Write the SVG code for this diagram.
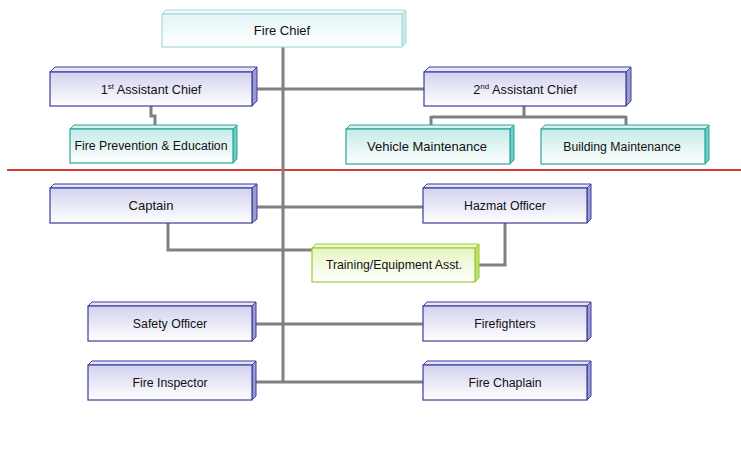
<svg xmlns="http://www.w3.org/2000/svg" width="741" height="451" viewBox="0 0 741 451">
<defs>
<linearGradient id="gBlue" x1="0" y1="0" x2="0" y2="1"><stop offset="0" stop-color="#d2d2ef"/><stop offset="1" stop-color="#ffffff"/></linearGradient>
<linearGradient id="gTeal" x1="0" y1="0" x2="0" y2="1"><stop offset="0" stop-color="#c4ebe8"/><stop offset="1" stop-color="#ffffff"/></linearGradient>
<linearGradient id="gGreen" x1="0" y1="0" x2="0" y2="1"><stop offset="0" stop-color="#e6f5c0"/><stop offset="1" stop-color="#ffffff"/></linearGradient>
<linearGradient id="gCyan" x1="0" y1="0" x2="0" y2="1"><stop offset="0" stop-color="#e4f6f6"/><stop offset="1" stop-color="#ffffff"/></linearGradient>
</defs>
<style>
text{font-family:"Liberation Sans",Arial,sans-serif;fill:#111;text-anchor:middle}
.sm{font-size:12.3px}
.conn{stroke:#808080;stroke-width:3;fill:none}
.blue .f{fill:url(#gBlue);stroke:#3c3c9c;stroke-width:1.2}
.blue .t{fill:#e6e6f6;stroke:#3c3c9c;stroke-width:1}
.blue .s{fill:#9a9ad0;stroke:#3c3c9c;stroke-width:1}
.teal .f{fill:url(#gTeal);stroke:#2aa59d;stroke-width:1.2}
.teal .t{fill:#d8f2f0;stroke:#2aa59d;stroke-width:1}
.teal .s{fill:#6fcdc6;stroke:#2aa59d;stroke-width:1}
.green .f{fill:url(#gGreen);stroke:#9ccc30;stroke-width:1.2}
.green .t{fill:#eef8d2;stroke:#9ccc30;stroke-width:1}
.green .s{fill:#bde070;stroke:#9ccc30;stroke-width:1}
.cyan .f{fill:url(#gCyan);stroke:#a6dada;stroke-width:1.2}
.cyan .t{fill:#eef9f9;stroke:#a6dada;stroke-width:1}
.cyan .s{fill:#cdeaea;stroke:#a6dada;stroke-width:1}
</style>
<line x1="7" y1="170" x2="741" y2="170" stroke="#d93a3a" stroke-width="2"/>
<g id="connectors">
<path class="conn" d="M283 47 V382"/>
<path class="conn" d="M257 89 H424"/>
<path class="conn" d="M151 106 V116 H155 V126"/>
<path class="conn" d="M524 106 V117 M431 117 H626 M431 116 V126 M626 116 V126"/>
<path class="conn" d="M257 207 H423"/>
<path class="conn" d="M168 223 V250 H312"/>
<path class="conn" d="M505 223 V265 H479"/>
<path class="conn" d="M256 324 H423"/>
<path class="conn" d="M256 382 H423"/>
</g>
<g id="fire-chief" class="cyan">
<polygon class="t" points="162,14 166,10 406,10 402,14"/>
<polygon class="s" points="402,14 406,10 406,43 402,47"/>
<rect class="f" x="162" y="14" width="240" height="33"/>
<text x="282" y="35" font-size="13">Fire Chief</text>
</g>
<g id="first-assistant-chief" class="blue">
<polygon class="t" points="50,72 55,67 257,67 252,72"/>
<polygon class="s" points="252,72 257,67 257,101 252,106"/>
<rect class="f" x="50" y="72" width="202" height="34"/>
<text x="151" y="94" font-size="12.7">1<tspan font-size="8" dy="-5">st</tspan><tspan dy="5"> Assistant Chief</tspan></text>
</g>
<g id="second-assistant-chief" class="blue">
<polygon class="t" points="424,72 429,67 631,67 626,72"/>
<polygon class="s" points="626,72 631,67 631,101 626,106"/>
<rect class="f" x="424" y="72" width="202" height="34"/>
<text x="525" y="94" font-size="12.7">2<tspan font-size="8" dy="-5">nd</tspan><tspan dy="5"> Assistant Chief</tspan></text>
</g>
<g id="fire-prevention" class="teal">
<polygon class="t" points="70,129 74,125 237,125 233,129"/>
<polygon class="s" points="233,129 237,125 237,159 233,163"/>
<rect class="f" x="70" y="129" width="163" height="34"/>
<text x="151" y="150" class="sm">Fire Prevention &amp; Education</text>
</g>
<g id="vehicle-maintenance" class="teal">
<polygon class="t" points="346,129 350,125 514,125 510,129"/>
<polygon class="s" points="510,129 514,125 514,160 510,164"/>
<rect class="f" x="346" y="129" width="164" height="35"/>
<text x="427" y="151" font-size="13">Vehicle Maintenance</text>
</g>
<g id="building-maintenance" class="teal">
<polygon class="t" points="541,129 545,125 709,125 705,129"/>
<polygon class="s" points="705,129 709,125 709,160 705,164"/>
<rect class="f" x="541" y="129" width="164" height="35"/>
<text x="622" y="151" class="sm">Building Maintenance</text>
</g>
<g id="captain" class="blue">
<polygon class="t" points="50,188 54,184 257,184 252,188"/>
<polygon class="s" points="252,188 257,184 257,219 252,223"/>
<rect class="f" x="50" y="188" width="202" height="35"/>
<text x="151" y="210" font-size="13">Captain</text>
</g>
<g id="hazmat-officer" class="blue">
<polygon class="t" points="423,188 427,184 591,184 587,188"/>
<polygon class="s" points="587,188 591,184 591,219 587,223"/>
<rect class="f" x="423" y="188" width="164" height="35"/>
<text x="505" y="210" class="sm">Hazmat Officer</text>
</g>
<g id="training-equipment" class="green">
<polygon class="t" points="312,248 316,244 479,244 475,248"/>
<polygon class="s" points="475,248 479,244 479,278 475,282"/>
<rect class="f" x="312" y="248" width="163" height="34"/>
<text x="394" y="269" class="sm">Training/Equipment Asst.</text>
</g>
<g id="safety-officer" class="blue">
<polygon class="t" points="88,306 92,302 256,302 252,306"/>
<polygon class="s" points="252,306 256,302 256,337 252,341"/>
<rect class="f" x="88" y="306" width="164" height="35"/>
<text x="170" y="328" class="sm">Safety Officer</text>
</g>
<g id="firefighters" class="blue">
<polygon class="t" points="423,306 427,302 591,302 587,306"/>
<polygon class="s" points="587,306 591,302 591,337 587,341"/>
<rect class="f" x="423" y="306" width="164" height="35"/>
<text x="505" y="328" class="sm">Firefighters</text>
</g>
<g id="fire-inspector" class="blue">
<polygon class="t" points="88,365 92,361 256,361 252,365"/>
<polygon class="s" points="252,365 256,361 256,396 252,400"/>
<rect class="f" x="88" y="365" width="164" height="35"/>
<text x="170" y="387" class="sm">Fire Inspector</text>
</g>
<g id="fire-chaplain" class="blue">
<polygon class="t" points="423,365 427,361 591,361 587,365"/>
<polygon class="s" points="587,365 591,361 591,396 587,400"/>
<rect class="f" x="423" y="365" width="164" height="35"/>
<text x="505" y="387" class="sm">Fire Chaplain</text>
</g>
</svg>
